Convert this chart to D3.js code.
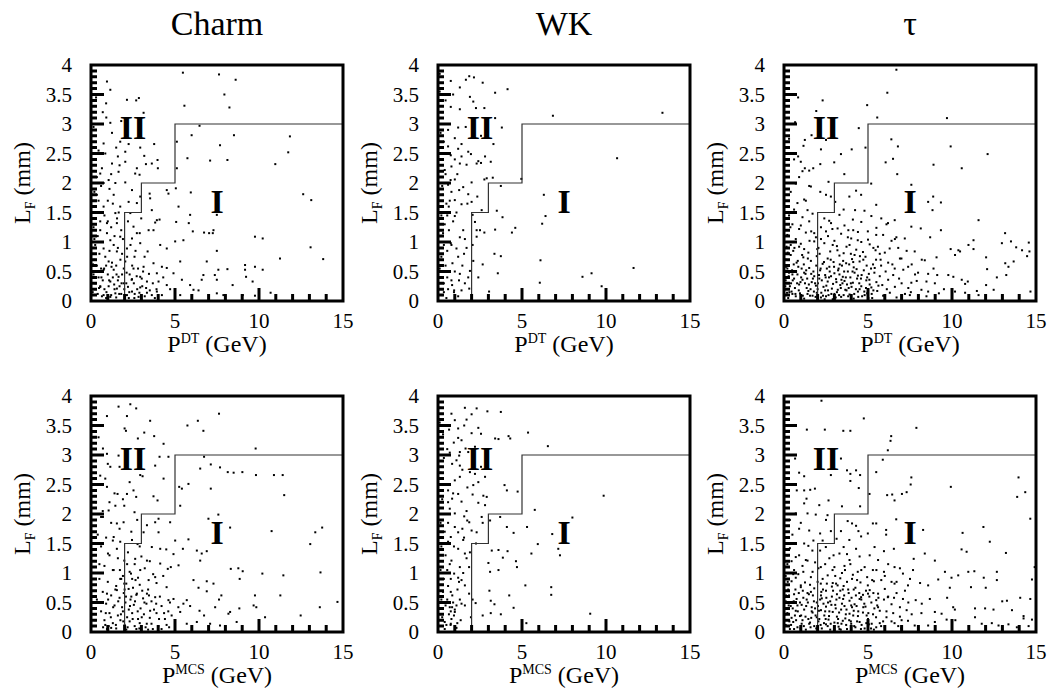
<!DOCTYPE html>
<html>
<head>
<meta charset="utf-8">
<script src="https://cdn.jsdelivr.net/npm/d3@7"></script>
<style>
  body { margin: 0; background: #fff; }
  text { font-family: "Liberation Serif", "Times New Roman", serif; fill: #000; }
</style>
</head>
<body>
<script>

// column titles and row variables
var titles = ["Charm", "WK", "\u03c4"];
var rowVars = ["DT", "MCS"];

var xMajor = [0, 5, 10, 15];
var xMinor = [1, 2, 3, 4, 6, 7, 8, 9, 11, 12, 13, 14];
var yMajor = [0, 0.5, 1, 1.5, 2, 2.5, 3, 3.5, 4];
var yMinor = [0.1,0.2,0.3,0.4,0.6,0.7,0.8,0.9,1.1,1.2,1.3,1.4,1.6,1.7,1.8,1.9,2.1,2.2,2.3,2.4,2.6,2.7,2.8,2.9,3.1,3.2,3.3,3.4,3.6,3.7,3.8,3.9];

// cut boundary between region I and II
var boundary = [[2,0],[2,1.5],[3,1.5],[3,2],[5,2],[5,3],[15,3]];
var regionLabels = [{t: "II", x: 2.5, y: 2.74}, {t: "I", x: 7.5, y: 1.5}];

// events, [P (GeV), L_F (mm)]
var charmDT = [[5.47,3.87],[7.62,3.84],[8.61,3.75],[0.95,3.72],[1.15,3.58],[7.94,3.5],[2.69,3.4],[2.14,3.41],[2.85,3.44],[5.56,3.31],[8.24,3.28],[3.13,3.19],[0.91,3.11],[1.15,3.02],[6.46,2.97],[5.99,2.81],[8.51,2.81],[11.84,2.79],[1.74,2.7],[2.24,2.66],[3.76,2.66],[5.11,2.7],[7.68,2.64],[2.93,2.6],[0.75,2.67],[2.04,2.53],[11.74,2.52],[3.17,2.46],[5.74,2.42],[8.12,2.39],[7.09,2.38],[3.96,2.39],[2.04,2.36],[1.25,2.33],[3.27,2.32],[3.62,2.33],[10.97,2.32],[2.73,2.25],[5.11,2.25],[3.98,2.25],[1.64,2.19],[0.55,2.16],[2.63,2.16],[2.89,2.14],[1.05,2.05],[2.04,2.01],[4.51,1.88],[4.61,1.82],[5.05,1.91],[5.94,1.84],[3.49,1.82],[12.63,1.81],[13.11,1.71],[2.44,1.88],[2.93,1.77],[1.35,1.8],[2.24,1.68],[2.73,1.66],[1.74,1.6],[3.52,1.74],[5.21,1.6],[3.62,1.54],[0.75,1.6],[1.45,1.49],[2.34,1.49],[7.49,1.46],[5.9,1.46],[2.99,1.4],[3.92,1.37],[4.08,1.38],[3.82,1.33],[5.07,1.34],[5.82,1.32],[0.95,1.32],[1.54,1.32],[2.53,1.26],[3.43,1.2],[6.06,1.18],[6.73,1.16],[7.03,1.15],[7.29,1.2],[7.25,1.15],[2.73,1.15],[3.72,1.2],[9.76,1.09],[10.22,1.06],[5.01,1.01],[1.15,1.03],[1.74,1.09],[2.44,1.06],[2.93,0.98],[4.12,0.95],[4.51,0.89],[5.5,1.03],[13.07,0.91],[7.49,0.85],[0.75,0.89],[1.54,0.84],[2.14,0.89],[3.37,0.84],[2.59,0.75],[3.19,0.75],[11.25,0.72],[13.82,0.71],[6.89,0.67],[5.31,0.67],[2.04,0.67],[1.05,0.67],[3.72,0.64],[9.17,0.61],[9.76,0.58],[4.22,0.58],[4.51,0.56],[7.58,0.53],[8.12,0.54],[9.17,0.53],[10.22,0.53],[3.13,0.58],[2.53,0.55],[1.35,0.53],[0.75,0.53],[6.69,0.44],[7.37,0.44],[4.91,0.47],[3.92,0.47],[9.23,0.41],[2.93,0.41],[1.64,0.41],[2.44,0.37],[6.59,0.36],[7.49,0.36],[9.62,0.33],[5.41,0.36],[4.02,0.33],[3.33,0.33],[1.15,0.33],[5.9,0.27],[4.51,0.27],[8.43,0.27],[2.2,0.24],[2.93,0.23],[0.55,0.24],[1.54,0.21],[4.71,0.2],[6.1,0.19],[3.92,0.16],[2.44,0.16],[3.33,0.14],[10.69,0.14],[9.03,0.1],[7.49,0.13],[6.4,0.18],[5.31,0.1],[4.22,0.1],[1.45,0.13],[0.75,0.1],[2.14,0.1],[2.83,0.07],[3.62,0.1],[7.88,0.1],[9.76,0.09],[1.15,0.07],
  [0.15,2.95],[0.25,2.4],[0.35,2.1],[0.2,1.85],[0.45,1.7],[0.6,1.95],[0.3,1.5],[0.55,1.35],[0.8,1.45],[0.15,1.25],[0.4,1.1],[0.7,1.0],[0.95,1.15],[1.2,1.25],[0.25,0.95],[0.5,0.8],[0.85,0.75],[1.1,0.85],[1.35,0.95],[1.6,0.9],[1.85,0.8],[0.2,0.7],[0.35,0.6],[0.6,0.55],[0.9,0.6],[1.25,0.65],[1.5,0.6],[1.75,0.7],[1.95,0.55],[0.15,0.45],[0.45,0.4],[0.7,0.35],[1.0,0.45],[1.3,0.4],[1.6,0.35],[1.85,0.45],[0.25,0.3],[0.55,0.25],[0.8,0.2],[1.05,0.25],[1.4,0.2],[1.7,0.25],[1.95,0.3],[0.1,0.15],[0.4,0.12],[0.65,0.08],[0.9,0.05],[1.2,0.1],[1.5,0.06],[1.8,0.12],[2.1,0.3],[2.3,0.45],[2.55,0.3],[2.75,0.2],[3.05,0.25],[3.5,0.18],[2.25,0.05],[2.6,0.12],[3.2,0.08],[3.8,0.05],[1.1,1.9],[1.45,2.0],[1.7,2.3],[0.85,2.5],[1.3,1.65],[1.55,1.4],[1.8,1.2],[1.9,1.05],[2.2,1.35],[2.35,0.95],[2.65,0.85],[2.9,1.15],[2.15,0.75],[2.45,0.6],[2.8,0.55],[3.1,0.5],[1.0,1.7],[0.65,2.25],[1.5,2.6],[0.9,3.35],[1.8,3.05],[1.25,2.85],
  [0.12,0.62],[0.3,0.5],[0.48,0.22],[0.62,0.4],[0.78,0.55],[0.92,0.15],[1.08,0.35],[1.22,0.58],[1.38,0.28],[1.52,0.45],[1.68,0.12],[1.82,0.3],[1.98,0.2],[2.12,0.48],[2.28,0.15],[2.42,0.36],[2.58,0.05],[2.72,0.42],[2.88,0.14],[3.02,0.38],[3.28,0.22],[3.45,0.46],[3.68,0.3],[3.9,0.2],[4.3,0.4],[0.2,1.05],[0.55,1.2],[1.0,1.35],[1.4,1.1],[1.65,1.5],[0.35,1.8],[0.75,2.0],[1.2,2.15],[0.45,2.55],[1.6,2.45],[0.3,3.45],[0.7,3.2]];

var wkDT = [[0.76,3.73],[1.86,3.81],[2.14,3.79],[1.66,3.75],[2.66,3.7],[1.3,3.62],[4.14,3.59],[3.4,3.53],[1.9,3.46],[2.1,3.38],[0.76,3.29],[1.3,3.25],[2.26,3.27],[2.76,3.27],[6.84,3.14],[13.36,3.19],[3.4,3.1],[1.2,2.94],[3.8,2.94],[2.56,2.8],[1.0,2.76],[3.3,2.66],[1.4,2.66],[0.6,2.62],[1.2,2.58],[1.8,2.53],[1.96,2.49],[0.76,2.47],[1.0,2.4],[2.8,2.45],[2.4,2.37],[2.56,2.34],[3.14,2.36],[10.66,2.42],[1.7,2.31],[1.3,2.33],[2.3,2.33],[0.8,2.28],[0.4,2.22],[2.9,2.08],[2.76,2.06],[3.26,2.09],[2.0,2.01],[1.0,2.06],[0.6,1.97],[4.96,2.07],[3.74,1.95],[1.5,1.93],[1.26,1.88],[1.8,1.81],[0.8,1.85],[6.3,1.8],[2.34,1.77],[1.0,1.71],[2.0,1.68],[1.4,1.64],[0.64,1.6],[2.6,1.54],[3.5,1.53],[2.06,1.46],[6.4,1.44],[3.84,1.42],[1.0,1.44],[2.2,1.34],[6.2,1.31],[4.6,1.24],[4.4,1.16],[2.3,1.2],[2.5,1.2],[3.4,1.21],[2.76,1.16],[1.3,1.08],[1.6,1.05],[2.3,1.09],[2.06,0.95],[0.76,0.98],[1.1,0.89],[1.2,0.75],[3.36,0.8],[3.74,0.76],[6.1,0.69],[2.1,0.68],[0.86,0.64],[2.66,0.62],[11.64,0.56],[1.9,0.51],[1.0,0.5],[1.3,0.46],[3.56,0.47],[9.14,0.47],[8.6,0.41],[2.4,0.4],[1.8,0.4],[6.06,0.31],[0.84,0.27],[9.74,0.25],[1.86,0.21],[0.96,0.18],[3.04,0.16],[1.4,0.18],[1.2,0.08],
  [0.1,3.55],[0.25,3.2],[0.15,2.85],[0.35,2.7],[0.2,2.4],[0.45,2.15],[0.15,2.0],[0.3,1.8],[0.5,1.65],[0.2,1.45],[0.4,1.3],[0.65,1.2],[0.15,1.1],[0.35,0.95],[0.55,0.85],[0.2,0.75],[0.45,0.6],[0.7,0.5],[0.15,0.4],[0.35,0.3],[0.6,0.2],[0.25,0.1],[0.5,0.05],[0.8,0.35],[0.9,1.35],[0.75,2.05],[0.6,2.9],[0.45,3.4],[1.1,1.5],[1.5,1.2],[1.7,0.9],[1.45,0.6],[1.6,0.3],[0.95,0.15],
  [0.1,3.85],[0.3,3.0],[0.5,2.5],[0.25,1.95],[0.55,1.45],[0.3,1.15],[0.8,0.95],[0.1,0.55],[0.55,0.4],[0.35,0.15],[1.25,0.35],[1.55,0.8],[1.75,1.65],[1.15,2.15],[1.65,2.95],[0.9,3.5],[1.4,2.45],[0.7,1.7]];

var tauDT = [[6.69,3.92],[6.15,3.53],[0.84,3.45],[2.3,3.4],[4.95,3.32],[1.92,3.22],[5.55,3.11],[9.7,3.1],[0.66,3.03],[4.45,2.93],[1.64,2.81],[1.24,2.73],[6.39,2.74],[2.5,2.73],[1.16,2.63],[2.2,2.57],[4.03,2.57],[4.85,2.6],[6.78,2.62],[9.92,2.62],[12.12,2.49],[3.39,2.49],[0.84,2.45],[1.0,2.36],[6.05,2.35],[6.49,2.41],[2.99,2.35],[2.16,2.32],[8.9,2.31],[1.24,2.25],[1.5,2.21],[1.74,2.25],[10.58,2.25],[3.59,2.15],[6.74,2.15],[0.7,1.99],[2.65,2.02],[5.19,1.99],[7.58,1.97],[1.6,1.94],[4.29,1.87],[4.59,1.8],[3.89,1.77],[2.16,1.85],[2.5,1.8],[2.79,1.77],[1.2,1.72],[8.88,1.77],[8.58,1.68],[9.34,1.67],[3.05,1.68],[5.49,1.63],[3.55,1.55],[4.23,1.54],[4.79,1.53],[1.4,1.54],[8.84,1.54],[0.8,1.66],[11.58,1.37],[5.79,1.4],[6.59,1.37],[6.19,1.32],[2.69,1.36],[7.58,1.26],[8.14,1.23],[9.34,1.2],[3.19,1.23],[3.83,1.2],[13.16,1.15],[4.99,1.18],[5.49,1.12],[6.69,1.08],[7.19,1.06],[8.7,1.08],[11.28,1.03],[13.51,1.01],[14.57,0.99],[4.39,1.03],[1.8,1.01],[10.98,0.95],[12.97,0.98],[13.82,0.91],[9.92,0.88],[10.38,0.86],[5.59,0.92],[6.29,0.89],[7.78,0.84],[10.48,0.84],[11.28,0.88],[14.17,0.86],[14.61,0.84],[9.08,0.74],[12.03,0.74],[10.18,0.78],[14.47,0.76],[6.99,0.72],[8.38,0.69],[13.17,0.64],[13.67,0.67],[7.39,0.58],[6.59,0.55],[12.09,0.54],[13.36,0.58],[7.98,0.48],[8.58,0.46],[9.12,0.44],[9.78,0.44],[10.08,0.41],[12.67,0.4],[13.23,0.44],[10.58,0.36],[10.94,0.33],[8.48,0.33],[8.98,0.3],[7.58,0.31],[10.78,0.29],[12.03,0.27],[9.52,0.2],[8.18,0.19],[8.58,0.16],[10.18,0.16],[10.78,0.14],[11.48,0.17],[12.48,0.19],[14.67,0.16],[9.22,0.13],[11.58,0.1],[8.48,0.08],[7.49,0.1],
  [0.3,1.45],[1.1,1.42],[1.7,1.48],[2.4,1.4],[3.3,1.46],[4.1,1.38],[5.2,1.44],[0.5,1.3],[0.9,1.22],[1.5,1.35],[2.2,1.25],[2.8,1.32],[3.6,1.28],[4.6,1.34],[5.5,1.24],[6.1,1.3],[0.2,1.12],[0.7,1.05],[1.3,1.16],[1.9,1.08],[2.5,1.18],[3.0,1.02],[3.4,1.14],[4.0,1.06],[4.4,1.17],[5.0,1.04],[5.9,1.12],[6.4,1.02],[0.15,0.92],[0.55,0.85],[1.0,0.97],[1.45,0.82],[2.05,0.9],[2.4,0.98],[2.75,0.84],[3.15,0.93],[3.55,0.81],[3.9,0.95],[4.3,0.87],[4.7,0.83],[5.1,0.96],[5.45,0.86],[6.0,0.82],[6.8,0.9],[7.3,0.85],[0.1,0.7],[0.4,0.78],[0.75,0.65],[1.15,0.74],[1.6,0.68],[1.95,0.76],[2.3,0.63],[2.6,0.72],[2.95,0.66],[3.3,0.77],[3.7,0.64],[4.05,0.71],[4.5,0.67],[4.85,0.75],[5.3,0.62],[5.75,0.7],[6.2,0.65],[6.9,0.72],[7.6,0.62],[8.2,0.7],[0.2,0.55],[0.5,0.45],[0.85,0.58],[1.2,0.48],[1.5,0.56],[1.8,0.42],[2.15,0.52],[2.45,0.44],[2.7,0.58],[3.0,0.47],[3.25,0.55],[3.5,0.41],[3.8,0.5],[4.15,0.57],[4.4,0.43],[4.75,0.52],[5.05,0.46],[5.4,0.56],[5.7,0.42],[6.05,0.5],[6.5,0.44],[7.1,0.53],[7.8,0.45],[8.9,0.55],[0.1,0.35],[0.35,0.25],[0.6,0.38],[0.9,0.28],[1.1,0.36],[1.35,0.22],[1.65,0.32],[1.9,0.26],[2.1,0.38],[2.35,0.24],[2.6,0.33],[2.85,0.21],[3.1,0.37],[3.35,0.27],[3.6,0.34],[3.85,0.22],[4.1,0.31],[4.35,0.38],[4.6,0.25],[4.9,0.35],[5.2,0.23],[5.5,0.32],[5.85,0.27],[6.2,0.36],[6.6,0.24],[7.0,0.3],[7.4,0.22],[7.9,0.34],[0.05,0.1],[0.25,0.05],[0.45,0.16],[0.7,0.08],[0.95,0.13],[1.2,0.04],[1.45,0.17],[1.7,0.09],[1.95,0.14],[2.2,0.06],[2.45,0.18],[2.65,0.1],[2.9,0.03],[3.15,0.15],[3.4,0.07],[3.65,0.19],[3.9,0.11],[4.15,0.04],[4.4,0.16],[4.65,0.08],[4.95,0.13],[5.25,0.05],[5.55,0.17],[5.9,0.09],[6.3,0.14],[6.7,0.06],[7.2,0.12],[0.3,0.48],[0.65,0.22],[1.05,0.55],[1.4,0.12],[1.75,0.5],[2.0,0.2],[2.5,0.08],[2.8,0.42],[3.2,0.19],[3.45,0.6],[3.75,0.28],[4.2,0.48],[4.5,0.2],[0.15,0.6],[0.5,0.12],[0.8,0.45],[1.25,0.3],[1.55,0.09],[2.25,0.35],[2.55,0.55],[3.0,0.12],[3.3,0.45],[3.55,0.1],[3.95,0.4],[4.8,0.1],[5.1,0.28],[0.4,0.95],[1.2,0.88],[2.2,1.05],[2.9,0.95],[3.8,1.08],[4.2,0.78],[4.6,1.0],[1.0,1.28],[1.8,1.15],[0.6,1.55],[1.3,1.7],[0.4,1.85],[0.9,2.1],[1.5,1.95],
  [0.12,0.58],[0.28,0.42],[0.42,0.3],[0.58,0.62],[0.72,0.5],[0.88,0.18],[1.02,0.4],[1.18,0.62],[1.32,0.52],[1.48,0.28],[1.62,0.46],[1.78,0.16],[1.92,0.6],[2.08,0.44],[2.22,0.14],[2.38,0.66],[2.52,0.26],[2.68,0.4],[2.82,0.12],[2.98,0.58],[3.12,0.32],[3.28,0.1],[3.42,0.36],[3.58,0.5],[3.72,0.18],[3.88,0.62],[4.02,0.24],[4.18,0.12],[4.32,0.54],[4.48,0.3],[4.62,0.44],[4.78,0.16],[4.92,0.6],[5.08,0.36],[5.22,0.12],[5.38,0.48],[5.62,0.26],[5.78,0.6],[0.08,0.25],[0.32,0.15],[0.52,0.35],[0.68,0.12],[0.82,0.68],[0.98,0.32],[1.12,0.09],[1.28,0.46],[1.42,0.72],[1.58,0.2],[1.72,0.38],[1.88,0.07],[2.02,0.3],[2.18,0.55],[2.32,0.09],[2.48,0.4],[2.62,0.18],[2.78,0.7],[2.92,0.29],[3.08,0.06],[3.22,0.52],[3.38,0.22],[3.52,0.68],[3.68,0.4],[3.82,0.08],[3.98,0.3],[4.12,0.66],[4.28,0.2],[4.42,0.07],[4.58,0.38],[4.72,0.7],[4.88,0.22],[5.02,0.05],[5.18,0.55],[5.32,0.18],[5.48,0.7],[0.22,0.82],[0.62,0.9],[1.08,0.78],[1.52,1.02],[1.98,0.88],[2.62,1.1],[3.18,0.86],[3.72,0.92],[4.12,1.2],[4.52,0.76],[5.32,0.9],[0.38,1.25],[1.62,1.18],[2.88,1.22],[3.98,0.8],[0.18,0.14],[0.48,0.52],[0.78,0.3],[1.38,0.38],[2.12,0.8],[2.42,0.03],[3.48,0.3],[4.08,0.5],[4.95,0.4],[0.9,0.92],[1.85,0.3],[2.72,0.5],[3.32,0.62],[6.12,0.2],[6.45,0.62],[6.85,0.38],[7.55,0.15],[5.7,0.8],[6.6,1.05],[0.6,2.4],[0.3,2.75],[1.1,2.2]];

var charmMCS = [[1.64,3.82],[2.34,3.86],[2.69,3.79],[0.95,3.66],[2.14,3.66],[7.62,3.7],[3.52,3.58],[5.74,3.5],[6.36,3.58],[6.69,3.41],[2.0,3.45],[2.08,3.41],[3.17,3.38],[2.79,3.28],[3.76,3.32],[4.32,3.19],[0.71,3.11],[9.8,3.11],[0.95,3.02],[1.64,2.99],[4.61,2.97],[6.73,2.97],[4.08,2.97],[3.82,2.82],[7.13,2.84],[7.68,2.79],[6.5,2.77],[1.15,2.8],[2.93,2.66],[3.07,2.64],[8.14,2.71],[8.49,2.7],[9.01,2.71],[9.82,2.66],[10.89,2.66],[11.41,2.66],[2.3,2.54],[4.32,2.6],[0.95,2.46],[5.25,2.46],[5.8,2.51],[5.41,2.43],[7.13,2.43],[11.5,2.32],[2.53,2.4],[2.69,2.29],[3.72,2.3],[3.96,2.23],[1.58,2.34],[2.14,2.34],[5.31,2.14],[1.05,2.06],[1.45,2.14],[1.98,2.14],[2.59,2.03],[0.71,1.95],[1.54,1.84],[1.94,1.86],[4.02,1.92],[3.82,1.86],[4.71,1.86],[6.99,1.92],[7.58,1.99],[8.28,1.77],[10.75,1.71],[13.35,1.69],[13.76,1.77],[13.05,1.49],[3.33,1.81],[3.13,1.69],[4.02,1.69],[5.01,1.55],[5.8,1.57],[1.35,1.61],[2.44,1.56],[1.74,1.53],[1.54,1.41],[2.77,1.49],[3.62,1.44],[4.12,1.41],[4.48,1.4],[6.3,1.38],[6.59,1.33],[6.89,1.37],[4.91,1.32],[5.47,1.41],[1.01,1.33],[1.98,1.21],[2.63,1.24],[3.33,1.21],[4.12,1.16],[4.57,1.07],[4.75,1.1],[5.21,1.13],[6.5,1.21],[8.32,1.07],[8.77,1.08],[9.03,1.03],[10.2,0.99],[11.45,0.96],[13.66,1.01],[1.35,1.05],[2.38,0.99],[2.93,1.05],[1.74,0.9],[3.43,0.88],[3.82,0.93],[6.1,0.88],[6.89,0.86],[7.29,0.82],[8.85,0.9],[6.4,0.75],[6.89,0.69],[7.76,0.62],[7.62,0.55],[9.76,0.62],[11.27,0.62],[14.67,0.51],[13.62,0.42],[9.68,0.45],[9.84,0.42],[8.83,0.4],[8.28,0.34],[8.18,0.31],[5.7,0.54],[5.5,0.48],[5.9,0.44],[6.46,0.36],[7.39,0.42],[4.91,0.56],[4.61,0.54],[3.82,0.59],[0.95,0.65],[1.54,0.71],[2.24,0.73],[2.73,0.65],[3.33,0.65],[5.31,0.34],[6.73,0.28],[10.36,0.25],[12.48,0.28],[8.67,0.17],[7.09,0.14],[7.68,0.11],[6.3,0.17],[5.7,0.14],
  [0.6,1.45],[1.1,1.3],[1.6,1.25],[2.2,1.35],[2.6,1.15],[3.0,1.28],[3.5,1.2],[0.8,1.12],[1.3,1.05],[1.9,0.95],[2.3,1.02],[2.8,0.92],[3.2,1.08],[3.7,0.98],[4.3,0.95],[0.5,0.9],[1.0,0.85],[1.5,0.78],[2.1,0.82],[2.5,0.75],[2.9,0.8],[3.4,0.72],[3.9,0.83],[4.5,0.76],[0.7,0.68],[1.2,0.62],[1.7,0.58],[1.95,0.66],[2.35,0.55],[2.7,0.63],[3.1,0.57],[3.6,0.52],[4.1,0.6],[4.7,0.5],[0.9,0.48],[1.4,0.45],[1.85,0.42],[2.05,0.5],[2.25,0.38],[2.55,0.46],[2.95,0.4],[3.3,0.48],[3.75,0.38],[4.2,0.44],[4.6,0.35],[5.2,0.42],[0.6,0.35],[1.1,0.32],[1.6,0.28],[1.9,0.35],[2.15,0.25],[2.45,0.32],[2.8,0.22],[3.15,0.3],[3.5,0.24],[3.9,0.32],[4.4,0.22],[4.8,0.28],[0.8,0.2],[1.3,0.15],[1.75,0.2],[2.0,0.12],[2.3,0.18],[2.6,0.1],[2.9,0.15],[3.25,0.08],[3.6,0.14],[4.0,0.1],[4.5,0.12],[0.95,0.05],[1.5,0.06],[2.1,0.04],[2.7,0.05],[3.4,0.04],[4.2,0.05],[5.0,0.08],[1.05,0.1],[1.2,0.07],[0.85,0.12],[2.4,0.6],[2.0,0.72],[1.8,0.9],[2.65,0.88],[3.45,0.62],[0.4,1.65],[1.2,1.85],[0.7,2.05],[1.4,2.35],[0.55,2.65],[1.0,2.85],[0.45,3.3],[1.3,1.55],[1.7,1.75],[2.4,1.7],[2.75,1.9],[0.3,2.2],[0.9,1.6],[0.35,0.55],[0.25,0.2],[0.5,1.15],
  [1.02,0.55],[1.18,0.25],[1.32,0.42],[1.48,0.12],[1.62,0.52],[1.78,0.3],[1.92,0.18],[2.08,0.6],[2.18,0.08],[2.32,0.44],[2.48,0.22],[2.62,0.52],[2.78,0.35],[2.88,0.06],[3.02,0.25],[3.18,0.5],[3.32,0.14],[3.52,0.36],[3.68,0.05],[3.88,0.48],[4.05,0.22],[4.35,0.32],[4.65,0.08],[0.72,0.08],[0.88,0.32],[1.45,0.72],[1.98,0.82],[2.45,0.9],[3.05,0.7],[1.72,1.05],[2.15,1.15],[2.9,1.45],[0.6,1.95],[1.1,2.2],[1.9,2.25],[0.85,2.6],[1.7,2.8]];

var wkMCS = [[1.6,3.8],[2.3,3.79],[2.94,3.74],[3.74,3.73],[2.0,3.69],[1.7,3.6],[1.0,3.59],[1.56,3.5],[2.4,3.46],[0.66,3.43],[5.36,3.38],[2.0,3.37],[2.56,3.36],[4.2,3.32],[4.3,3.28],[1.2,3.29],[1.4,3.25],[3.4,3.28],[3.6,3.27],[0.94,3.21],[6.54,3.15],[2.2,3.14],[1.64,3.11],[0.7,3.04],[1.26,2.99],[1.1,2.91],[0.84,2.85],[1.3,2.82],[2.56,2.8],[1.9,2.71],[2.2,2.68],[2.8,2.63],[1.3,2.63],[1.0,2.57],[2.4,2.54],[2.1,2.49],[3.96,2.49],[4.1,2.4],[4.74,2.38],[9.86,2.31],[0.6,2.4],[1.2,2.34],[0.84,2.26],[1.4,2.21],[2.06,2.33],[2.7,2.31],[2.9,2.29],[2.4,2.19],[2.8,2.15],[0.7,2.09],[1.0,2.01],[1.56,1.96],[1.74,1.89],[1.86,1.86],[2.6,1.95],[2.66,1.85],[5.76,2.07],[8.0,1.94],[3.7,1.95],[3.1,1.89],[4.1,1.78],[5.3,1.78],[4.5,1.68],[6.8,1.66],[5.94,1.49],[7.16,1.41],[7.26,1.3],[5.56,1.33],[1.0,1.78],[1.2,1.69],[2.0,1.72],[2.3,1.69],[0.76,1.61],[1.5,1.56],[0.6,1.53],[2.26,1.5],[3.2,1.38],[3.6,1.39],[4.14,1.37],[1.2,1.41],[1.6,1.33],[3.86,1.26],[3.0,1.17],[4.64,1.2],[4.7,1.1],[3.1,1.02],[3.6,1.05],[0.8,1.21],[1.3,1.1],[0.96,0.99],[0.76,0.9],[1.2,0.92],[1.4,0.88],[1.6,0.79],[1.16,0.72],[0.76,0.68],[5.2,0.79],[6.74,0.76],[6.74,0.63],[3.06,0.7],[4.24,0.62],[2.06,0.55],[2.24,0.49],[3.14,0.53],[3.36,0.47],[4.5,0.41],[0.84,0.42],[0.76,0.35],[1.0,0.34],[1.4,0.48],[3.74,0.3],[2.66,0.28],[3.14,0.32],[1.96,0.25],[9.06,0.31],[5.26,0.15],[0.76,0.14],[1.1,0.07],[0.4,0.17],
  [0.1,3.55],[0.2,3.2],[0.35,2.95],[0.15,2.7],[0.45,2.5],[0.25,2.25],[0.5,2.0],[0.15,1.85],[0.4,1.7],[0.6,1.85],[0.2,1.45],[0.45,1.3],[0.7,1.15],[0.15,1.05],[0.35,0.9],[0.6,0.78],[0.85,0.62],[0.2,0.55],[0.45,0.45],[0.65,0.3],[0.25,0.25],[0.5,0.12],[0.8,0.22],[0.9,0.5],[1.0,0.38],[0.95,0.28],[1.1,0.45],[0.7,0.42],[1.3,0.55],[1.5,1.0],[1.7,1.25],[1.85,0.65],[1.55,1.6],[1.75,2.45],[1.45,2.75],[1.2,3.45],[0.8,3.7],[1.8,3.05],[1.9,1.35],[1.35,0.2],
  [0.1,3.8],[0.3,3.35],[0.55,3.1],[0.25,2.5],[0.6,2.2],[0.3,1.6],[0.55,1.05],[0.3,0.68],[0.55,0.55],[0.75,0.12],[0.4,0.05],[1.15,0.15],[1.25,0.85],[1.6,0.45],[1.45,1.75],[1.7,2.05],[1.3,3.05],[0.9,2.35],[1.85,1.1],[0.95,1.45]];

var tauMCS = [[2.23,3.92],[4.75,3.62],[1.36,3.43],[2.43,3.43],[3.53,3.41],[3.95,3.41],[7.88,3.46],[6.38,3.32],[6.34,3.24],[6.18,3.08],[0.66,2.94],[3.39,2.94],[5.88,2.92],[3.75,2.74],[4.29,2.74],[3.95,2.68],[4.53,2.66],[2.79,2.66],[1.2,2.64],[5.49,2.71],[7.58,2.62],[13.96,2.62],[7.54,2.5],[9.93,2.46],[1.56,2.41],[1.84,2.43],[0.76,2.4],[4.45,2.44],[3.95,2.56],[14.36,2.37],[13.88,2.29],[6.14,2.32],[6.44,2.33],[6.58,2.23],[7.02,2.34],[7.3,2.37],[5.09,2.34],[2.65,2.23],[1.34,2.26],[4.53,2.13],[3.45,2.13],[1.2,2.18],[0.7,2.01],[1.4,2.01],[1.89,1.99],[2.59,1.98],[14.66,1.92],[6.68,1.91],[3.79,1.88],[4.05,1.84],[5.29,1.84],[5.49,1.84],[4.29,1.8],[11.87,1.78],[0.9,1.75],[1.5,1.72],[2.15,1.67],[2.79,1.71],[3.39,1.71],[4.43,1.71],[6.08,1.73],[8.28,1.73],[10.63,1.68],[4.99,1.67],[6.08,1.65],[3.13,1.58],[3.89,1.56],[4.59,1.62],[12.25,1.53],[13.21,1.34],[10.57,1.4],[10.87,1.36],[1.2,1.5],[1.69,1.38],[2.49,1.44],[3.55,1.44],[4.29,1.41],[5.39,1.44],[5.95,1.37],[6.54,1.41],[8.38,1.33],[8.98,1.21],[7.72,1.24],[14.92,1.1],[0.7,1.27],[1.4,1.21],[2.19,1.1],[2.89,1.05],[3.63,1.05],[4.39,1.02],[5.29,1.05],[6.58,1.1],[7.08,0.99],[7.68,1.05],[9.58,1.02],[10.37,0.96],[10.97,1.02],[11.33,1.03],[11.89,0.92],[12.67,1.02],[12.67,0.88],[14.76,0.89],[9.18,0.89],[9.97,0.92],[11.13,0.76],[12.01,0.75],[9.87,0.75],[8.58,0.79],[7.38,0.79],[6.58,0.82],[5.79,0.88],[4.99,0.79],[4.15,0.72],[3.19,0.79],[2.19,0.82],[1.0,0.79],[14.06,0.58],[14.66,0.56],[9.71,0.58],[8.68,0.56],[12.99,0.52],[13.27,0.53],[7.84,0.54],[7.08,0.56],[6.18,0.59],[5.49,0.54],[4.59,0.59],[11.37,0.4],[11.97,0.4],[12.47,0.38],[13.57,0.37],[10.07,0.42],[10.17,0.38],[8.98,0.34],[9.38,0.31],[8.18,0.32],[11.37,0.25],[14.26,0.27],[14.26,0.23],[14.76,0.21],[9.68,0.21],[10.2,0.2],[8.98,0.17],[7.38,0.19],[6.58,0.15],[7.78,0.11],[8.58,0.11],[11.77,0.14],[12.37,0.15],[12.77,0.11],[13.86,0.08],[14.56,0.1],[13.36,0.13],[5.49,0.08],[6.98,0.06],
  [0.35,1.42],[0.9,1.3],[1.45,1.46],[2.15,1.38],[2.7,1.25],[3.3,1.33],[3.9,1.22],[4.5,1.28],[5.1,1.3],[5.6,1.22],[0.2,1.15],[0.6,1.05],[1.1,1.12],[1.7,1.02],[2.45,1.15],[3.0,1.1],[3.45,1.0],[3.95,1.15],[4.8,1.1],[5.5,1.05],[6.2,1.15],[6.9,1.08],[0.1,0.95],[0.45,0.86],[0.85,0.98],[1.25,0.84],[1.6,0.93],[2.0,0.85],[2.6,0.96],[2.9,0.83],[3.35,0.91],[3.75,0.85],[4.1,0.97],[4.55,0.84],[4.95,0.93],[5.35,0.86],[6.0,0.95],[6.4,0.85],[7.5,0.9],[8.1,0.83],[0.25,0.72],[0.6,0.64],[1.0,0.76],[1.4,0.66],[1.8,0.74],[2.2,0.62],[2.5,0.7],[2.85,0.77],[3.15,0.64],[3.5,0.72],[3.85,0.66],[4.25,0.75],[4.7,0.63],[5.1,0.71],[5.6,0.65],[6.0,0.73],[6.7,0.66],[7.2,0.7],[0.1,0.52],[0.4,0.44],[0.75,0.56],[1.05,0.46],[1.35,0.55],[1.65,0.42],[1.95,0.5],[2.25,0.57],[2.5,0.43],[2.75,0.52],[3.05,0.46],[3.3,0.58],[3.6,0.44],[3.9,0.53],[4.2,0.47],[4.5,0.56],[4.85,0.43],[5.2,0.5],[5.55,0.45],[5.95,0.55],[6.4,0.47],[6.9,0.42],[7.4,0.5],[0.2,0.32],[0.45,0.24],[0.7,0.36],[0.95,0.27],[1.2,0.38],[1.45,0.22],[1.7,0.33],[1.95,0.25],[2.2,0.37],[2.4,0.28],[2.65,0.21],[2.9,0.34],[3.15,0.26],[3.4,0.38],[3.65,0.23],[3.9,0.31],[4.15,0.36],[4.4,0.27],[4.7,0.33],[5.0,0.22],[5.3,0.3],[5.7,0.36],[6.1,0.25],[6.5,0.32],[6.9,0.26],[7.3,0.37],[0.1,0.12],[0.35,0.05],[0.55,0.17],[0.8,0.08],[1.05,0.14],[1.3,0.04],[1.55,0.16],[1.8,0.1],[2.05,0.18],[2.25,0.06],[2.5,0.13],[2.75,0.04],[3.0,0.16],[3.25,0.09],[3.5,0.19],[3.75,0.05],[4.0,0.14],[4.25,0.08],[4.5,0.17],[4.8,0.06],[5.05,0.13],[5.35,0.04],[5.7,0.15],[6.0,0.08],[6.4,0.18],[6.8,0.1],[0.3,0.62],[0.65,0.28],[1.15,0.58],[1.5,0.14],[1.85,0.4],[2.1,0.22],[2.35,0.48],[2.6,0.1],[2.85,0.6],[3.2,0.15],[3.45,0.48],[3.7,0.12],[4.05,0.42],[4.35,0.18],[4.6,0.55],[0.55,0.98],[1.3,1.22],[2.3,0.9],[3.1,0.82],[3.6,1.12],[4.35,0.88],[1.75,1.55],[0.5,1.65],[1.0,1.85],[2.3,1.55],[0.2,1.3],[0.8,0.45],[1.6,0.68],[2.7,0.35],[3.3,0.05],[0.15,0.4],[1.1,0.2],[5.9,0.18],[6.2,0.6],[5.0,0.65],
  [0.12,0.62],[0.28,0.45],[0.42,0.12],[0.58,0.52],[0.72,0.2],[0.88,0.66],[1.02,0.28],[1.18,0.1],[1.32,0.44],[1.48,0.64],[1.62,0.24],[1.78,0.52],[1.92,0.06],[2.08,0.36],[2.22,0.68],[2.38,0.15],[2.52,0.58],[2.68,0.27],[2.82,0.46],[2.98,0.08],[3.12,0.55],[3.28,0.33],[3.42,0.14],[3.58,0.62],[3.72,0.38],[3.88,0.2],[4.02,0.58],[4.18,0.1],[4.32,0.44],[4.48,0.66],[4.62,0.12],[4.78,0.48],[4.92,0.28],[5.08,0.6],[5.22,0.14],[5.38,0.4],[5.62,0.58],[5.78,0.1],[0.08,0.3],[0.32,0.18],[0.52,0.4],[0.68,0.72],[0.82,0.35],[0.98,0.06],[1.12,0.7],[1.28,0.26],[1.42,0.5],[1.58,0.08],[1.72,0.62],[1.88,0.28],[2.02,0.44],[2.18,0.12],[2.32,0.72],[2.48,0.22],[2.62,0.5],[2.78,0.14],[2.92,0.7],[3.08,0.4],[3.22,0.22],[3.38,0.04],[3.52,0.56],[3.68,0.3],[3.82,0.72],[3.98,0.18],[4.12,0.28],[4.28,0.62],[4.42,0.35],[4.58,0.05],[4.72,0.42],[4.88,0.7],[5.02,0.32],[5.18,0.06],[5.32,0.66],[5.48,0.25],[0.22,0.85],[0.7,0.92],[1.15,1.02],[1.55,0.8],[2.05,1.08],[2.55,0.82],[3.05,0.95],[3.55,0.78],[4.05,0.9],[4.6,1.05],[5.25,0.88],[0.45,1.2],[1.85,1.18],[2.95,1.3],[3.75,1.32],[0.6,0.05],[0.95,0.5],[1.65,0.35],[2.15,0.55],[2.45,0.35],[3.35,0.7],[4.0,0.45],[4.9,0.15],[5.6,0.42],[6.1,0.35],[6.55,0.58],[7.0,0.2],[7.6,0.3],[8.2,0.48],[5.95,1.02],[6.7,0.85],[0.35,1.9],[1.2,2.4],[0.9,2.7],[2.1,2.15],[2.5,1.9]];

var panelData = [[charmDT, wkDT, tauDT], [charmMCS, wkMCS, tauMCS]];

// layout
var W = 1050, H = 693;
var colLeft = [91, 438, 784];
var rowTop = [65, 396];
var pw = 252, ph = 236;
var serif = "'Liberation Serif', 'Times New Roman', serif";

var svg = d3.select("body").append("svg")
  .attr("width", W)
  .attr("height", H)
  .attr("viewBox", "0 0 " + W + " " + H);

var x = d3.scaleLinear().domain([0, 15]).range([0, pw]);
var y = d3.scaleLinear().domain([0, 4]).range([ph, 0]);

// frame outline plus all inward ticks in one outline path
function framePath() {
  var p = d3.path();
  p.rect(0, 0, pw, ph);
  yMinor.forEach(function(v){ p.moveTo(0, y(v)); p.lineTo(6, y(v)); });
  yMajor.forEach(function(v){ p.moveTo(0, y(v)); p.lineTo(13, y(v)); });
  xMinor.forEach(function(v){ p.moveTo(x(v), ph); p.lineTo(x(v), ph - 7); });
  xMajor.forEach(function(v){ p.moveTo(x(v), ph); p.lineTo(x(v), ph - 13); });
  return p.toString();
}

// column titles
titles.forEach(function(t, c) {
  svg.append("text")
    .attr("x", colLeft[c] + pw / 2)
    .attr("y", 35)
    .attr("text-anchor", "middle")
    .style("font-family", serif)
    .style("font-size", "34px")
    .text(t);
});

rowVars.forEach(function(v, r) {
  colLeft.forEach(function(left, c) {
    var g = svg.append("g").attr("transform", "translate(" + left + "," + rowTop[r] + ")");

    // the events
    g.append("g").selectAll("rect")
      .data(panelData[r][c])
      .enter().append("rect")
      .attr("x", function(d){ return x(d[0]) - 1; })
      .attr("y", function(d){ return y(d[1]) - 1; })
      .attr("width", 2)
      .attr("height", 2)
      .attr("fill", "#000");

    // tick labels
    g.append("g").selectAll("text").data(yMajor).enter().append("text")
      .attr("x", -19)
      .attr("y", function(d){ return y(d); })
      .attr("dy", "0.35em")
      .attr("text-anchor", "end")
      .style("font-family", serif)
      .style("font-size", "21px")
      .text(function(d){ return String(d); });
    g.append("g").selectAll("text").data(xMajor).enter().append("text")
      .attr("x", function(d){ return x(d); })
      .attr("y", ph + 12)
      .attr("dy", "0.71em")
      .attr("text-anchor", "middle")
      .style("font-family", serif)
      .style("font-size", "21px")
      .text(function(d){ return String(d); });

    // region boundary
    g.append("path")
      .datum(boundary)
      .attr("d", d3.line().x(function(d){ return x(d[0]); }).y(function(d){ return y(d[1]); }))
      .attr("fill", "none")
      .attr("stroke", "#333")
      .attr("stroke-width", 1.2);

    regionLabels.forEach(function(l) {
      g.append("text")
        .attr("x", x(l.x))
        .attr("y", y(l.y))
        .attr("text-anchor", "middle")
        .style("font-family", serif)
        .style("font-size", "34px")
        .style("font-weight", "bold")
        .text(l.t);
    });

    // frame with ticks
    g.append("path")
      .attr("d", framePath())
      .style("fill", "none")
      .style("stroke", "#000")
      .style("stroke-width", "3px")
      .style("stroke-linecap", "butt");

    // x axis title with superscript
    var xt = g.append("text")
      .attr("x", pw / 2)
      .attr("y", ph + 51)
      .attr("text-anchor", "middle")
      .style("font-family", serif)
      .style("font-size", "24px");
    xt.append("tspan").text("P");
    xt.append("tspan").attr("dy", -9).style("font-size", "14px").text(v);
    xt.append("tspan").attr("dy", 9).text("\u00a0(GeV)");

    // y axis title with subscript
    var yt = g.append("text")
      .attr("transform", "translate(-61," + (ph / 2) + ") rotate(-90)")
      .attr("text-anchor", "middle")
      .style("font-family", serif)
      .style("font-size", "24px");
    yt.append("tspan").text("L");
    yt.append("tspan").attr("dy", 5).style("font-size", "14px").text("F");
    yt.append("tspan").attr("dy", -5).text("\u00a0(mm)");
  });
});

</script>
</body>
</html>
